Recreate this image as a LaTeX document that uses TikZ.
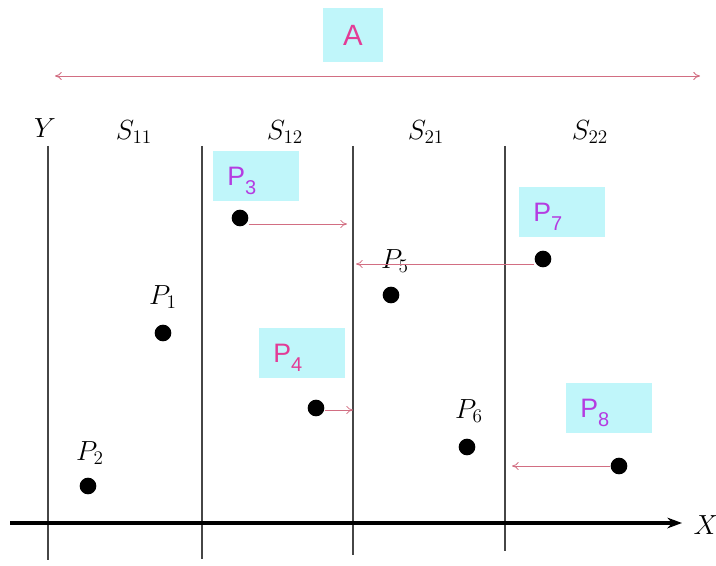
\documentclass[tikz,border=0pt]{standalone}
\usepackage{fontspec}
\newfontfamily\labfont{Liberation Sans}
\usetikzlibrary{arrows.meta}
\definecolor{arrowred}{RGB}{210,110,130}
\definecolor{boxcyan}{RGB}{192,246,250}
\definecolor{labpink}{RGB}{226,60,150}
\definecolor{labpurple}{RGB}{180,60,225}
\definecolor{wallgray}{RGB}{70,70,70}
\newcommand\psub[1]{\raisebox{-7pt}[0pt][0pt]{P\raisebox{-7pt}{\fontsize{15}{15}\selectfont #1}}}
\begin{document}
\begin{tikzpicture}[x=0.75pt,y=0.75pt,yscale=-1,xscale=1,
    dot/.style={circle,fill=black,inner sep=0pt,minimum size=12.5pt},
    tag/.style={fill=boxcyan,inner xsep=10.5pt,inner ysep=0pt,text width=43pt,align=left,minimum height=37pt,font=\labfont\fontsize{20}{22}\selectfont},
    mv/.style={draw=arrowred,line width=0.6pt,-{To[length=5pt,width=6pt]}},
    wall/.style={draw=wallgray,line width=1.2pt},
    mlab/.style={inner sep=0.75pt,font=\fontsize{20}{22}\selectfont}]
    \useasboundingbox (0,0) rectangle (716,566);
    % range of the whole domain
    \node[fill=boxcyan,minimum width=45pt,minimum height=40pt,inner sep=0pt,text=labpink,font=\labfont\fontsize{22}{24}\selectfont] (A) at (353,35) {A};
    \coordinate (Al) at (55,76);
    \coordinate (Ar) at (700,76);
    \draw[draw=arrowred,line width=0.7pt,{To[length=5pt,width=6pt]}-{To[length=5pt,width=6pt]}] (Al) -- (Ar);
    % walls between the sub-domains
    \foreach \n/\xw/\yb in {1/48/560,2/202/559,3/353/555,4/505/551}
        \coordinate (top\n) at (\xw,146) coordinate (bot\n) at (\xw,\yb);
    \foreach \n in {1,...,4}
        \draw[wall] (top\n) -- (bot\n);
    % x axis
    \coordinate (xl) at (10,523);
    \coordinate (xr) at (682,523);
    \draw[line width=3pt,-{Stealth[length=11pt,width=8pt]}] (xl) -- (xr);
    \node[mlab] (X) at (706,525) {$X$};
    \node[mlab] (Y) at (45,128) {$Y$};
    \node[mlab] (S11) at (134,132) {$S_{11}$};
    \node[mlab] (S12) at (285,132) {$S_{12}$};
    \node[mlab] (S21) at (426,132) {$S_{21}$};
    \node[mlab] (S22) at (590,132) {$S_{22}$};
    % particles
    \node[dot] (d1) at (163,333) {};
    \node[dot] (d2) at (88,486) {};
    \node[dot] (d3) at (240,218) {};
    \node[dot] (d4) at (316,408) {};
    \node[dot] (d5) at (391,295) {};
    \node[dot] (d6) at (467,447) {};
    \node[dot] (d7) at (543,259) {};
    \node[dot] (d8) at (619,466) {};
    \node[mlab] (l1) at (163,297) {$P_1$};
    \node[mlab] (l2) at (90,453) {$P_2$};
    \node[mlab] (l5) at (395,261) {$P_5$};
    \node[mlab] (l6) at (469,411) {$P_6$};
    \node[tag,text=labpurple] (t3) at (256,176) {\psub{3}};
    \node[tag,text=labpink] (t4) at (302,353) {\psub{4}};
    \node[tag,text=labpurple] (t7) at (562,212) {\psub{7}};
    \node[tag,text=labpurple] (t8) at (609,408) {\psub{8}};
    % moves across the walls
    \coordinate (e3) at (347,224);
    \coordinate (e4) at (353,410);
    \coordinate (e7) at (356,264);
    \coordinate (e8) at (512,466);
    \draw[mv] (e3 -| d3.east) -- (e3);
    \draw[mv] (e4 -| d4.east) -- (e4);
    \draw[mv] (e7 -| d7.west) -- (e7);
    \draw[mv] (e8 -| d8.west) -- (e8);
\end{tikzpicture}
\end{document}
